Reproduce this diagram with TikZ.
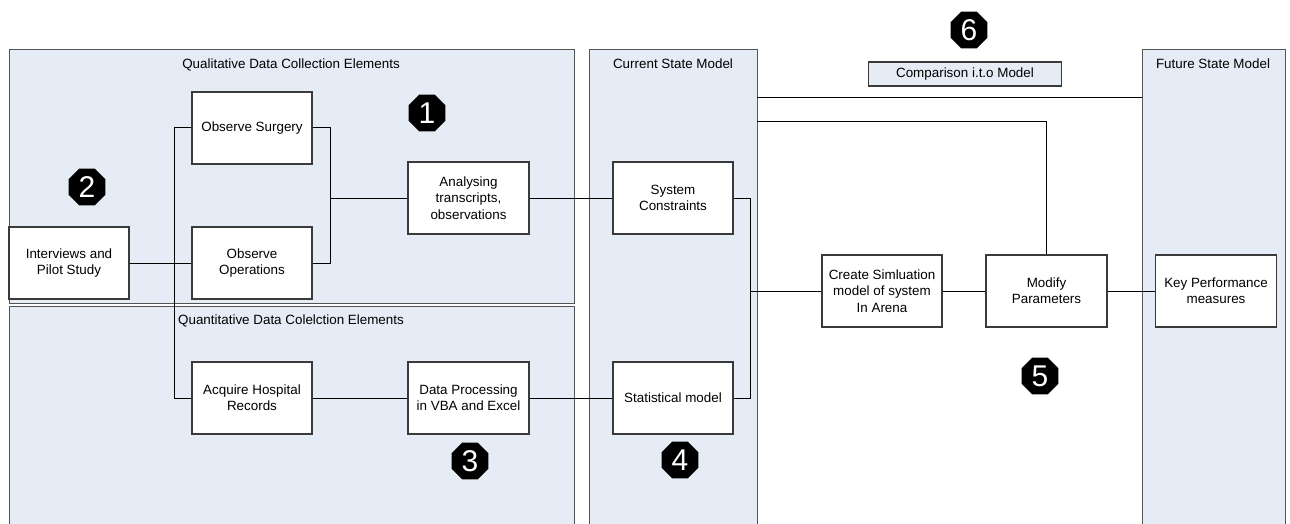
\documentclass[tikz,border=0pt]{standalone}
\usepackage{fontspec}
\setmainfont{Liberation Sans}
\usetikzlibrary{shapes.geometric}
\definecolor{panelfill}{HTML}{E6ECF6}
\definecolor{panelline}{HTML}{555555}
\definecolor{boxline}{HTML}{3A3A3A}
\tikzset{
  panel/.style={draw=panelline, line width=0.9pt, fill=panelfill, rectangle, anchor=north west, inner sep=0pt},
  ptitle/.style={font=\fontsize{13.4}{16}\selectfont, inner sep=0pt, anchor=center},
  procbox/.style={draw=boxline, line width=1.1pt, fill=white, rectangle, minimum width=120pt, minimum height=72pt, align=center, inner sep=1pt, font=\fontsize{13.4}{16.4}\selectfont},
  cmpbox/.style={draw=boxline, line width=1.1pt, fill=panelfill, rectangle, minimum width=193pt, minimum height=24pt, inner sep=0pt, font=\fontsize{13.4}{16}\selectfont},
  badge/.style={regular polygon, regular polygon sides=8, minimum size=40pt, inner sep=0pt, fill=black, text=white, font=\fontsize{30}{30}\selectfont},
  conn/.style={draw=black, line width=1pt},
}
\begin{document}
\begin{tikzpicture}[x=1pt,y=-1pt]
\clip (0,0) rectangle (1290,524);
\fill[white] (0,0) rectangle (1290,524);
% panels
\node[panel, minimum width=565pt, minimum height=253pt] (qual) at (8.5,49.5) {};
\node[panel, minimum width=565pt, minimum height=230pt] (quant) at (8.5,305.5) {};
\node[panel, minimum width=168pt, minimum height=480pt] (current) at (588.5,49.5) {};
\node[panel, minimum width=142.5pt, minimum height=480pt] (future) at (1142,49.5) {};
% panel titles
\node[ptitle] (qualt) at (291,65) {Qualitative Data Collection Elements};
\node[ptitle] (quantt) at (291,321) {Quantitative Data Colelction Elements};
\node[ptitle] (currentt) at (673,64) {Current State Model};
\node[ptitle] (futuret) at (1213,64) {Future State Model};
% boxes
\node[procbox] (surgery) at (252,128) {Observe Surgery};
\node[procbox] (operations) at (252,263) {Observe\\Operations};
\node[procbox] (interviews) at (69,263) {Interviews and\\Pilot Study};
\node[procbox, minimum width=121pt] (analysing) at (468.5,198) {Analysing\\transcripts,\\observations};
\node[procbox] (acquire) at (252,398) {Acquire Hospital\\Records};
\node[procbox, minimum width=121pt] (dataproc) at (468.5,398) {Data Processing\\in VBA and Excel};
\node[procbox] (syscon) at (673,198) {System\\Constraints};
\node[procbox] (statmodel) at (673,398) {Statistical model};
\node[procbox] (createsim) at (882,291) {Create Simluation\\model of system\\In Arena};
\node[procbox, minimum width=121pt] (modify) at (1046.5,291) {Modify\\Parameters};
\node[procbox, minimum width=121pt] (keyperf) at (1216,291) {Key Performance\\measures};
\node[cmpbox] (compare) at (965,74) {Comparison i.t.o Model};
% badges
\node[badge] (b1) at (427,113) {1};
\node[badge] (b2) at (87,187) {2};
\node[badge] (b3) at (470,461) {3};
\node[badge] (b4) at (680,460) {4};
\node[badge] (b5) at (1040,376) {5};
\node[badge] (b6) at (969,30) {6};
% helper coordinates
\coordinate (vL) at (174,0);
\coordinate (bR) at (330,0);
\coordinate (vC) at (750,0);
\coordinate (hA) at (760,97.7);
\coordinate (hB) at (760,121.7);
% connectors
\draw[conn] (surgery.west) -| (vL |- acquire.west) -- (acquire.west);
\draw[conn] (interviews.east) -- (operations.west);
\draw[conn] (surgery.east) -| (bR |- operations.east) -- (operations.east);
\draw[conn] (bR |- analysing.west) -- (analysing.west);
\draw[conn] (analysing.east) -- (syscon.west);
\draw[conn] (acquire.east) -- (dataproc.west);
\draw[conn] (dataproc.east) -- (statmodel.west);
\draw[conn] (syscon.east) -| (vC |- statmodel.east) -- (statmodel.east);
\draw[conn] (vC |- createsim.west) -- (createsim.west);
\draw[conn] (createsim.east) -- (modify.west);
\draw[conn] (modify.east) -- (keyperf.west);
\draw[conn] (hA -| current.east) -- (hA -| future.west);
\draw[conn] (hB -| current.east) -| (modify.north);
\end{tikzpicture}
\end{document}
